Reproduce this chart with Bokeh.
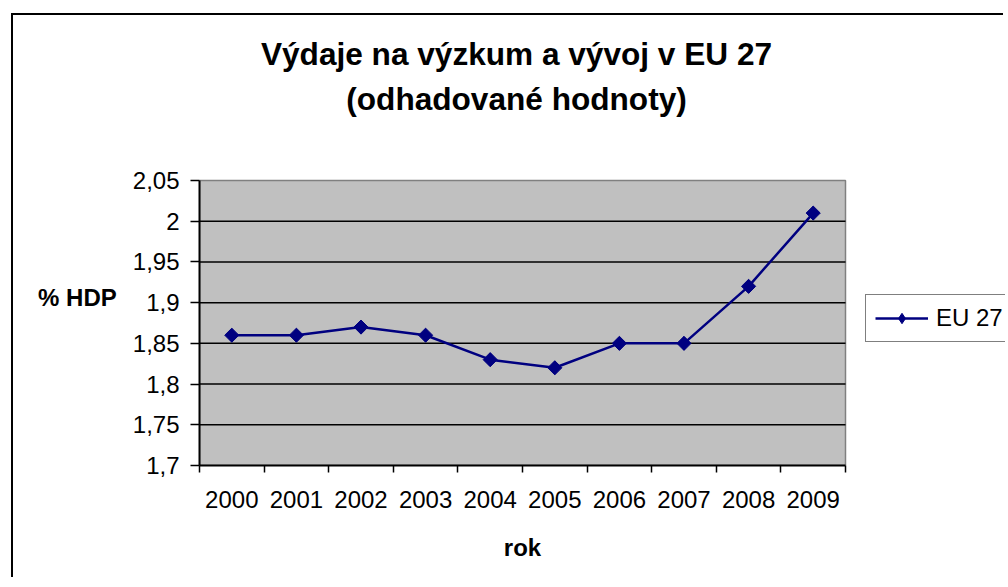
import numpy as np
from bokeh.plotting import figure
from bokeh.models import (Range1d, FixedTicker, CustomJSTickFormatter, Label,
                          Legend, LegendItem)
from bokeh.embed import file_html
from bokeh.resources import INLINE

# ---- data ----
years = [2000, 2001, 2002, 2003, 2004, 2005, 2006, 2007, 2008, 2009]
eu27 = [1.86, 1.86, 1.87, 1.86, 1.83, 1.82, 1.85, 1.85, 1.92, 2.01]
y_ticks = [1.7, 1.75, 1.8, 1.85, 1.9, 1.95, 2.0, 2.05]
grid_ticks = [1.75, 1.8, 1.85, 1.9, 1.95, 2.0]
title_lines = ["Výdaje na výzkum a vývoj v EU 27", "(odhadované hodnoty)"]
y_title = "% HDP"
x_title = "rok"
series_name = "EU 27"

FONT = "Liberation Sans"
NAVY = "#000080"
NBSP = "\u00a0"

# ---- layout geometry (page pixels) ----
OX, OY = 13, 15                 # canvas origin on the page (after css border)
RIGHT, BOTTOM = 1005, 579       # canvas right / bottom edge on the page
PL, PR, PT, PB = 199, 845, 180, 465   # grey plot area on the page
CW, CH = RIGHT - OX, BOTTOM - OY

x0, x1 = years[0] - 0.5, years[-1] + 0.5
ylo, yhi = y_ticks[0], y_ticks[-1]
xs = (x1 - x0) / (PR - PL)      # data per px
ys = (yhi - ylo) / (PB - PT)
def dx(px):
    return x0 + (px - PL) * xs
def dy(py):
    return yhi - (py - PT) * ys

p = figure(width=CW, height=CH, output_backend="svg", toolbar_location=None,
           x_range=Range1d(x0, dx(RIGHT)), y_range=Range1d(ylo, dy(OY)),
           min_border_left=PL - OX, min_border_right=0,
           min_border_top=0, min_border_bottom=(BOTTOM - PB))
p.title.visible = False
p.background_fill_color = "white"
p.border_fill_color = "white"
p.outline_line_color = None
p.xgrid.visible = False
p.ygrid.visible = False
# outer chart border: only its top and left edges fall inside the window
p.styles = {"margin-left": "11px", "margin-top": "13px",
            "border-left": "2px solid black", "border-top": "2px solid black"}

# grey plot area + gridlines
p.quad(left=[x0], right=[x1], bottom=[ylo], top=[yhi],
       fill_color="#C0C0C0", line_color="#808080", line_width=1.5)
p.segment(x0=[x0] * len(grid_ticks), x1=[x1] * len(grid_ticks),
          y0=grid_ticks, y1=grid_ticks, line_color="black", line_width=1.5)

# x axis
xa = p.xaxis[0]
xa.bounds = (x0, x1)
xa.ticker = FixedTicker(ticks=years,
                        minor_ticks=[y - 0.5 for y in years] + [years[-1] + 0.5])
xa.major_tick_line_color = None
xa.major_tick_out = 0
xa.major_tick_in = 0
xa.minor_tick_line_color = "black"
xa.minor_tick_line_width = 1.5
xa.minor_tick_out = 7
xa.minor_tick_in = 0
xa.axis_line_color = "black"
xa.axis_line_width = 2
xa.major_label_standoff = 18
xa.major_label_text_font = FONT
xa.major_label_text_font_size = "24px"
xa.major_label_text_color = "black"
xa.major_label_overrides = {y: str(y) for y in years}
# label is centred on the whole frame; padding moves it over the grey area
xa.axis_label = x_title + NBSP * 24
xa.axis_label_text_font = FONT
xa.axis_label_text_font_size = "24px"
xa.axis_label_text_font_style = "bold"
xa.axis_label_text_color = "black"
xa.axis_label_standoff = 23

# y axis
ya = p.yaxis[0]
ya.bounds = (ylo, yhi)
ya.ticker = FixedTicker(ticks=y_ticks)
ya.formatter = CustomJSTickFormatter(code="""
    return tick.toFixed(2).replace(/0+$/, '').replace(/\\.$/, '').replace('.', ',');
""")
ya.minor_tick_line_color = None
ya.major_tick_line_color = "black"
ya.major_tick_line_width = 1.5
ya.major_tick_out = 9
ya.major_tick_in = 0
ya.axis_line_color = "black"
ya.axis_line_width = 2
ya.major_label_standoff = 11
ya.major_label_text_font = FONT
ya.major_label_text_font_size = "24px"
ya.major_label_text_color = "black"
ya.axis_label = NBSP + "\n" + y_title
ya.axis_label_text_line_height = 4.25
ya.axis_label_text_font = FONT
ya.axis_label_text_font_size = "24px"
ya.axis_label_text_font_style = "bold"
ya.axis_label_text_color = "black"
ya.axis_label_standoff = 13
if hasattr(ya, "axis_label_orientation"):
    ya.axis_label_orientation = "horizontal"

# series
ln = p.line(years, eu27, line_color=NAVY, line_width=2.5)
# diamond glyph used by the legend (hidden under the rotated squares)
dm = p.scatter(years, eu27, marker="diamond", size=13,
               fill_color=NAVY, line_color=NAVY)
mk = p.scatter(years, eu27, marker="square", size=10, angle=np.pi / 4,
               fill_color=NAVY, line_color=NAVY)

# legend (inside the wide frame, running off the right edge like the original)
leg = Legend(items=[LegendItem(label=series_name, renderers=[ln, dm])],
             location=(865 - PL, PB - 342), orientation="vertical",
             border_line_color="black", border_line_width=1.5,
             background_fill_color="white", background_fill_alpha=1,
             label_text_font=FONT, label_text_font_size="24px",
             label_text_color="black",
             glyph_width=53, glyph_height=26, label_standoff=8,
             padding=9, margin=0, spacing=0, label_width=80)
p.add_layout(leg, "center")

# titles
for txt, py in zip(title_lines, [53, 98]):
    p.add_layout(Label(x=dx(516), y=dy(py), text=txt, text_align="center",
                       text_baseline="middle", text_font=FONT,
                       text_font_size="31.6px", text_font_style="bold",
                       text_color="black"))

open("out.html", "w").write(file_html(p, INLINE))
